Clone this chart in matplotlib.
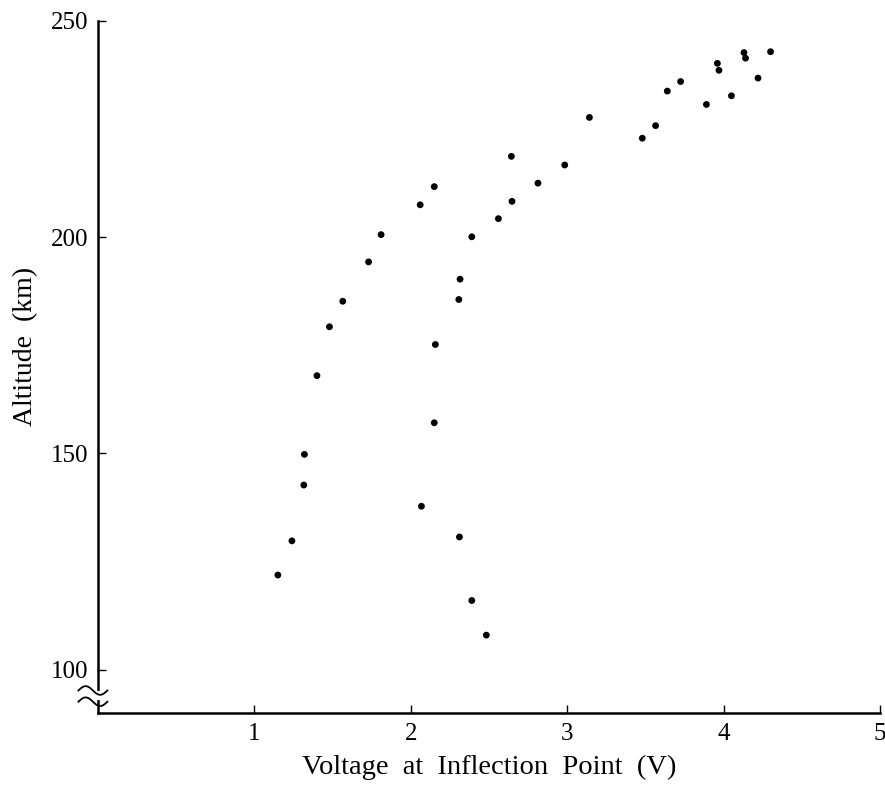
import numpy as np
import matplotlib.pyplot as plt

# voltage at inflection point (V) and altitude (km)
voltage = [1.15, 1.24, 1.316, 1.32, 1.40, 1.48, 1.565, 1.73, 1.81, 2.06, 2.15,
           2.15, 2.157, 2.068, 2.311, 2.39, 2.483,
           2.39, 2.315, 2.307, 2.560, 2.647, 2.643, 2.813, 2.984, 3.142,
           3.48, 3.565, 3.64, 3.725, 3.89, 3.96, 3.97, 4.05, 4.13, 4.14, 4.22, 4.30]
altitude = [121.9, 129.8, 142.7, 149.8, 168.0, 179.3, 185.2, 194.3, 200.6, 207.5, 211.7,
            157.1, 175.2, 137.8, 130.7, 116.0, 108.0,
            200.1, 190.3, 185.6, 204.3, 208.3, 218.7, 212.5, 216.7, 227.7,
            222.9, 225.8, 233.8, 236.0, 230.7, 240.2, 238.6, 232.7, 242.7, 241.4, 236.8, 242.9]

x_ticks = [1, 2, 3, 4, 5]
y_ticks = [100, 150, 200, 250]

plt.rcParams['font.family'] = ['Liberation Serif', 'DejaVu Serif']

fig = plt.figure(figsize=(8.85, 7.86), dpi=100)
ax = fig.add_axes([0.1107, 0.0929, 0.8837, 0.8804])

ax.scatter(voltage, altitude, s=24, color='black', edgecolors='none', zorder=3)

ax.set_xlim(0, 5)
ax.set_ylim(90, 250)
ax.set_xticks(x_ticks)
ax.set_yticks(y_ticks)
ax.tick_params(direction='in', length=6, width=1, labelsize=18, pad=7)

for s in ['top', 'right']:
    ax.spines[s].set_visible(False)
for s in ['left', 'bottom']:
    ax.spines[s].set_linewidth(1.8)

ax.set_xlabel('Voltage  at  Inflection  Point  (V)', fontsize=20.5)
ax.xaxis.set_label_coords(0.5, -0.06)
ax.set_ylabel('Altitude  (km)', fontsize=20)
ax.yaxis.set_label_coords(-0.076, 0.53)

# axis break mark on the y axis
trans = ax.get_yaxis_transform()
t = np.linspace(-0.025, 0.012, 50)
for y0 in [95.2, 92.6]:
    yy = y0 + 1.0 * np.sin((t + 0.025) / 0.037 * 2 * np.pi)
    ax.plot(t, yy, transform=trans, color='black', lw=1.3, clip_on=False, zorder=5)
ax.plot([0, 0], [93.4, 94.6], transform=trans, color='white', lw=3, clip_on=False, zorder=4)

fig.savefig('out.png', dpi=100)
